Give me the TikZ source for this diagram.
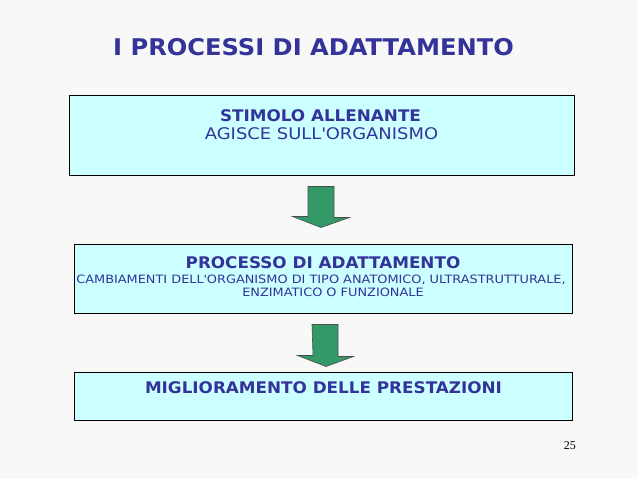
\documentclass[tikz,border=0pt]{standalone}
\usepackage{fontspec}
\setmainfont{DejaVu Sans}
\newfontfamily\comicb[FakeStretch=1.05]{DejaVu Sans}
\newfontfamily\comicn[FakeStretch=1.12]{DejaVu Sans}
\usetikzlibrary{calc}

\definecolor{bgcol}{HTML}{F8F8F8}
\definecolor{boxcol}{HTML}{CCFFFF}
\definecolor{txtcol}{HTML}{333399}
\definecolor{arrcol}{HTML}{339966}

\begin{document}
\begin{tikzpicture}[x=1pt,y=-1pt,
  box/.style={draw=black,line width=1pt,fill=boxcol,inner sep=0pt},
  bigtxt/.style={text=txtcol,anchor=base,inner sep=0pt,font=\comicb\bfseries\fontsize{23}{27}\selectfont},
  headtxt/.style={text=txtcol,anchor=base,inner sep=0pt,font=\comicb\bfseries\fontsize{16}{19}\selectfont},
  plaintxt/.style={text=txtcol,anchor=base,inner sep=0pt,font=\comicn\fontsize{16}{19}\selectfont},
  smalltxt/.style={text=txtcol,anchor=base,inner sep=0pt,font=\comicn\fontsize{11.5}{14}\selectfont},
  fatarrow/.style={draw=black!70,fill=arrcol,line width=0.6pt,line join=miter}]

\fill[bgcol] (0,0) rectangle (638,479);
\useasboundingbox (0,0) rectangle (638,479);

\node[bigtxt] (title) at (313.5,55) {I PROCESSI DI ADATTAMENTO};

% boxes
\node[box,minimum width=505pt,minimum height=80pt] (stimolo) at (321.5,135) {};
\node[box,minimum width=498pt,minimum height=69pt] (processo) at (323,278.5) {};
\node[box,minimum width=498pt,minimum height=48pt] (miglior) at (323,396) {};

% texts
\node[headtxt] (stimolo1) at ($(stimolo.north)+(-1,27)$) {STIMOLO ALLENANTE};
\node[plaintxt] (stimolo2) at ($(stimolo.north)+(0,45)$) {AGISCE SULL\textquotesingle ORGANISMO};

\node[headtxt] (processo1) at ($(processo.north)+(0,25)$) {PROCESSO DI ADATTAMENTO};
\node[smalltxt] (processo2) at ($(processo.north)+(-2,40)$) {CAMBIAMENTI DELL\textquotesingle ORGANISMO DI TIPO ANATOMICO, ULTRASTRUTTURALE,};
\node[smalltxt] (processo3) at ($(processo.north)+(10,53)$) {ENZIMATICO O FUNZIONALE};

\node[headtxt] (miglior1) at ($(miglior.north)+(0.5,22)$) {MIGLIORAMENTO DELLE PRESTAZIONI};

% arrows
\coordinate (a1) at ($(stimolo.south)+(-0.5,11)$);
\coordinate (t1) at ($(processo.north)+(-2,-16)$);
\draw[fatarrow] (a1) ++(-13,0) -- ++(26,0) -- ++(0,31) -- ++(15.5,0) -- (t1)
  -- ($(t1)+(-28.5,-11)$) -- ++(15.5,0) -- cycle;

\coordinate (a2) at ($(processo.south)+(2,11)$);
\coordinate (t2) at ($(miglior.north)+(3,-5)$);
\draw[fatarrow] (a2) ++(-13,0) -- ++(26,0) -- ++(0,32) -- ++(15.5,0) -- (t2)
  -- ($(t2)+(-28.5,-11)$) -- ++(15.5,0) -- cycle;

\node[anchor=base east,inner sep=0pt,font=\fontspec{Liberation Serif}\fontsize{12}{14}\selectfont] (pagenum) at (576,449) {25};

\end{tikzpicture}
\end{document}
